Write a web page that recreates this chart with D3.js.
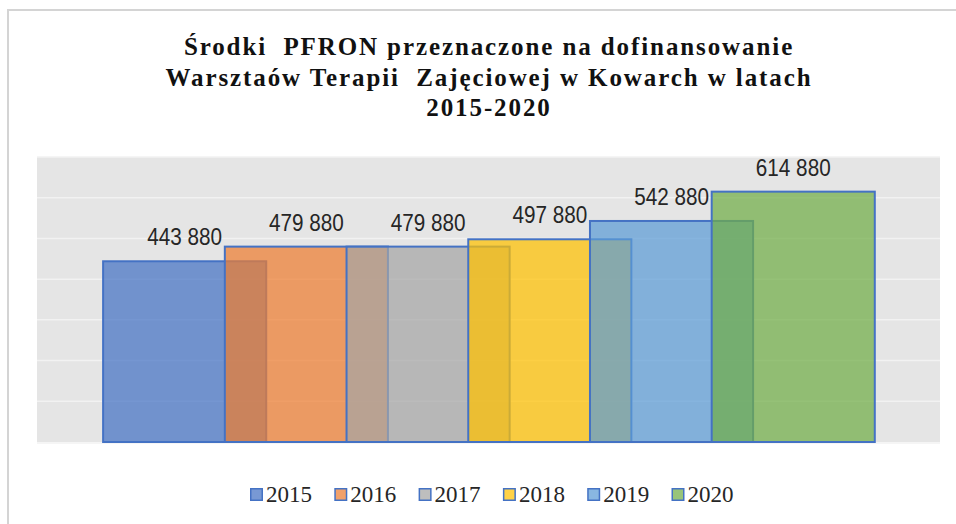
<!DOCTYPE html>
<html>
<head>
<meta charset="utf-8">
<script src="https://cdn.jsdelivr.net/npm/d3@7"></script>
<style>
    html, body {margin: 0; padding: 0; background: #fff;}
    svg {display: block;}
</style>
</head>
<body>
<svg id="chart"></svg>
<script>
const YEARS = ['2015', '2016', '2017', '2018', '2019', '2020'];
const VALUES = [443880, 479880, 479880, 497880, 542880, 614880];
const COLORS = ['#4472C4', '#ED7D31', '#A5A5A5', '#FFC000', '#5B9BD5', '#70AD47'];
const TITLE_LINES = [
    'Środki  PFRON przeznaczone na dofinansowanie',
    'Warsztaów Terapii  Zajęciowej w Kowarch w latach',
    '2015-2020'
];
const Y_TICKS = [0, 100000, 200000, 300000, 400000, 500000, 600000, 700000];

const WIDTH = 956;
const HEIGHT = 524;
const PLOT = {left: 37, right: 940, top: 157, bottom: 442};

const svg = d3.select('#chart')
    .attr('width', WIDTH)
    .attr('height', HEIGHT);

// outer frame of the chart (only left and top edge are visible)
svg.append('rect')
    .attr('x', 8).attr('y', 10)
    .attr('width', WIDTH + 20).attr('height', HEIGHT + 20)
    .attr('fill', '#fff')
    .attr('stroke', '#d4d4d4')
    .attr('stroke-width', 2);

/* ************** SCALES ************** */
const y = d3.scaleLinear().domain([0, 700000]).range([PLOT.bottom, PLOT.top]);
const x = d3.scaleBand().domain(YEARS).range([123.8, 854.1]).padding(0);
const BAR_WIDTH = x.bandwidth() * 1.34; // bars overlap each other

const fmt = d3.formatLocale({decimal: ',', thousands: ' ', grouping: [3], currency: ['', '']}).format(',');

/* ************** TITLE ************** */
const title = svg.append('g');
title.selectAll('text')
    .data(TITLE_LINES)
    .enter().append('text')
    .attr('x', 489)
    .attr('y', (d, i) => 55 + i * 30.5)
    .attr('text-anchor', 'middle')
    .style('white-space', 'pre')
    .style('font-family', '"Liberation Serif", serif')
    .style('font-weight', 'bold')
    .style('font-size', '25px')
    .style('letter-spacing', '1.9px')
    .attr('fill', '#111')
    .text(d => d);

/* ************** PLOT BACKGROUND + GRID ************** */
svg.append('rect')
    .attr('x', PLOT.left).attr('y', PLOT.top)
    .attr('width', PLOT.right - PLOT.left)
    .attr('height', PLOT.bottom - PLOT.top)
    .attr('fill', '#e5e5e5');

svg.append('g').selectAll('line')
    .data(Y_TICKS.slice(1))
    .enter().append('line')
    .attr('x1', PLOT.left).attr('x2', PLOT.right)
    .attr('y1', d => y(d)).attr('y2', d => y(d))
    .attr('stroke', '#f2f2f2')
    .attr('stroke-width', 1.5);

svg.append('line')
    .attr('x1', PLOT.left).attr('x2', PLOT.right)
    .attr('y1', PLOT.bottom + 1).attr('y2', PLOT.bottom + 1)
    .attr('stroke', '#f2f2f2')
    .attr('stroke-width', 1.5);

/* ************** BARS ************** */
const data = YEARS.map((year, i) => ({year: year, value: VALUES[i], color: COLORS[i]}));

const chart = svg.append('g');
chart.selectAll('.bar')
    .data(data)
    .enter().append('rect')
    .classed('bar', true)
    .attr('x', d => x(d.year) + x.bandwidth() / 2 - BAR_WIDTH / 2)
    .attr('y', d => y(d.value))
    .attr('width', BAR_WIDTH)
    .attr('height', d => y(0) - y(d.value))
    .attr('fill', d => d.color)
    .attr('fill-opacity', 0.72)
    .attr('stroke', '#4472C4')
    .attr('stroke-width', 2);

// value labels above the bars
chart.selectAll('.label')
    .data(data)
    .enter().append('text')
    .classed('label', true)
    .attr('transform', d => `translate(${x(d.year) + x.bandwidth() / 2}, ${y(d.value) - 16}) scale(0.9, 1)`)
    .attr('text-anchor', 'middle')
    .style('font-family', '"Liberation Sans", Arial, sans-serif')
    .style('font-size', '23px')
    .attr('fill', '#262626')
    .text(d => fmt(d.value));

/* ************** LEGEND ************** */
const legend = svg.append('g');
const item = legend.selectAll('.item')
    .data(data)
    .enter().append('g')
    .classed('item', true)
    .attr('transform', (d, i) => `translate(${250 + i * 84.3}, 488)`);

item.append('rect')
    .attr('x', 0.75).attr('y', 0.75)
    .attr('width', 11.5).attr('height', 11.5)
    .attr('fill', d => d.color)
    .attr('fill-opacity', 0.72)
    .attr('stroke', '#4472C4')
    .attr('stroke-width', 1.5);

item.append('text')
    .attr('x', 16)
    .attr('y', 14)
    .style('font-family', '"Liberation Serif", serif')
    .style('font-size', '23px')
    .attr('fill', '#262626')
    .text(d => d.year);
</script>
</body>
</html>
